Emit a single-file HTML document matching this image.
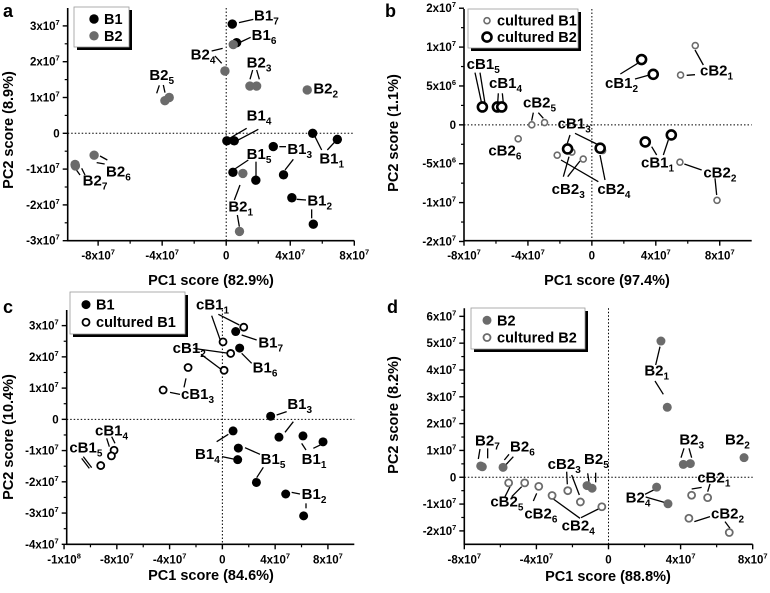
<!DOCTYPE html>
<html><head><meta charset="utf-8"><style>
html,body{margin:0;padding:0;background:#fff}
svg{display:block;font-family:"Liberation Sans",Arial,sans-serif;font-weight:bold}
</style></head><body>
<svg id="fig" width="770" height="593" viewBox="0 0 770 593" xmlns="http://www.w3.org/2000/svg"></svg>
<script>
// ---------- DATA (x, y in units of 1e7) ----------
// Panel a
const aB1X=[0.38,0.65,0.04,0.5,5.4,6.94,2.94,3.58,0.42,1.85,4.1,5.44];
const aB1Y=[3.05,2.53,-0.21,-0.21,0,-0.17,-0.37,-1.16,-1.09,-1.31,-1.8,-2.54];
const aB2X=[-0.08,0.44,1.48,1.9,5.06,-3.83,-3.56,-8.25,-9.42,-9.44,1.04,0.83];
const aB2Y=[1.74,2.48,1.32,1.32,1.21,0.91,1.0,-0.61,-0.91,-0.87,-1.12,-2.74];
// Panel b
const bC1X=[6.47,5.55,-3.76,-2.96,-4.61,-2.17,-1.25,-0.54,0.67,5.51,7.83];
const bC1Y=[1.02,0.64,0,0.03,-0.18,-0.39,-0.35,-0.44,-0.33,-0.48,-0.97];
const bC2X=[3.11,3.84,-6.85,-5.91,-5.64,-1.52,0.52,3.34,4.97];
const bC2Y=[0.84,0.65,0.23,0.23,0.23,-0.31,-0.30,-0.22,-0.13];
// Panel c
const cB1X=[1.01,1.31,3.66,4.29,6.11,7.63,0.81,1.21,1.16,2.58,4.8,6.16];
const cB1Y=[2.81,2.28,0.1,-0.57,-0.53,-0.72,-0.37,-0.92,-1.29,-2.02,-2.39,-3.09];
const cC1X=[1.62,0.05,0.63,0.13,-2.6,-4.49,-8.21,-8.41,-9.22];
const cC1Y=[2.95,2.48,2.11,1.57,1.66,0.94,-0.99,-1.17,-1.48];
// Panel d
const dB2X=[2.91,3.26,4.15,4.54,7.52,2.67,3.3,-1.19,-0.91,-7.09,-7.0,-5.85];
const dB2Y=[5.08,2.61,0.48,0.51,0.73,-0.37,-0.99,-0.31,-0.41,0.42,0.39,0.37];
const dC2X=[-5.54,-4.65,-3.87,-3.13,-2.26,-1.56,-0.37,4.61,5.5,4.46,6.7];
const dC2Y=[-0.21,-0.21,-0.34,-0.68,-0.5,-0.92,-1.1,-0.67,-0.76,-1.53,-2.06];
// Ticks
const aXT=[-8,-4,0,4,8], aXL=["-8x10^7","-4x10^7","0","4x10^7","8x10^7"];
const aYT=[-3,-2,-1,0,1,2,3], aYL=["-3x10^7","-2x10^7","-1x10^7","0","1x10^7","2x10^7","3x10^7"];
const bXT=[-8,-4,0,4,8], bXL=["-8x10^7","-4x10^7","0","4x10^7","8x10^7"];
const bYT=[-1.5,-1,-0.5,0,0.5,1,1.5], bYL=["-2x10^7","-1x10^7","-5x10^6","0","5x10^6","1x10^7","2x10^7"];
const cXT=[-12,-8,-4,0,4,8], cXL=["-1x10^8","-8x10^7","-4x10^7","0","4x10^7","8x10^7"];
const cYT=[-4,-3,-2,-1,0,1,2,3], cYL=["-4x10^7","-3x10^7","-2x10^7","-1x10^7","0","1x10^7","2x10^7","3x10^7"];
const dXT=[-8,-4,0,4,8], dXL=["-8x10^7","-4x10^7","0","4x10^7","8x10^7"];
const dYT=[-2,-1,0,1,2,3,4,5,6], dYL=["-2x10^7","-1x10^7","0","1x10^7","2x10^7","3x10^7","4x10^7","5x10^7","6x10^7"];

const NS="http://www.w3.org/2000/svg";
const svg=document.getElementById('fig');
function el(tag,attrs,parent){const e=document.createElementNS(NS,tag);for(const k in attrs)e.setAttribute(k,attrs[k]);(parent||svg).appendChild(e);return e;}

function sciText(parent,x,y,str,anchor,size){
  const t=el('text',{x:x,y:y,'text-anchor':anchor,'font-size':size},parent);
  const p=str.split('^');
  t.appendChild(document.createTextNode(p[0]));
  if(p[1]){const s=el('tspan',{dy:-5,'font-size':size*0.65},t);s.textContent=p[1];}
  return t;
}

function panel(cfg){
  const g=el('g',{transform:`translate(${cfg.ox},${cfg.oy})`});
  
  
  const sx=v=>cfg.L+(v-cfg.xmin)/(cfg.xmax-cfg.xmin)*(cfg.R-cfg.L);
  const sy=v=>cfg.B-(v-cfg.ymin)/(cfg.ymax-cfg.ymin)*(cfg.B-cfg.T);
  const zx=el('line',{x1:sx(0),x2:sx(0),y1:cfg.T,y2:cfg.B,stroke:'#000','stroke-width':1,'stroke-dasharray':'1.5,2'},g);
  
  const zy=el('line',{x1:cfg.L,x2:cfg.R,y1:sy(0),y2:sy(0),stroke:'#000','stroke-width':1,'stroke-dasharray':'1.5,2'},g);
  
  const ax=el('path',{d:`M${cfg.L},${cfg.T} V${cfg.B} H${cfg.R}`,fill:'none',stroke:'#000','stroke-width':1.6},g);
  
  cfg.xt.forEach((v,i)=>{
    el('line',{x1:sx(v),x2:sx(v),y1:cfg.B,y2:cfg.B+5,stroke:'#000','stroke-width':1.4},g);
    if(i<cfg.xt.length-1){const m=(v+cfg.xt[i+1])/2;el('line',{x1:sx(m),x2:sx(m),y1:cfg.B,y2:cfg.B+3,stroke:'#000','stroke-width':1.2},g);}
    const t=sciText(g,sx(v),cfg.B+19,cfg.xl[i],'middle',11.5);
    
  });
  cfg.yt.forEach((v,i)=>{
    el('line',{x1:cfg.L-5,x2:cfg.L,y1:sy(v),y2:sy(v),stroke:'#000','stroke-width':1.4},g);
    if(i<cfg.yt.length-1){const m=(v+cfg.yt[i+1])/2;el('line',{x1:cfg.L-3,x2:cfg.L,y1:sy(m),y2:sy(m),stroke:'#000','stroke-width':1.2},g);}
    const t=sciText(g,cfg.L-8,sy(v)+4,cfg.yl[i],'end',11.5);
    
  });
  const xt=el('text',{x:cfg.xtx,y:cfg.xty,'text-anchor':'middle','font-size':14.5},g);xt.textContent=cfg.xtitle;
  
  const yt=el('text',{x:0,y:0,'text-anchor':'middle','font-size':14.5,transform:`translate(${cfg.ytx},${cfg.yty}) rotate(-90)`},g);yt.textContent=cfg.ytitle;
  
  const lt=el('text',{x:cfg.lx,y:cfg.ly,'font-size':18},g);lt.textContent=cfg.id;
  
  cfg.ann.forEach(a=>{
    const lg=el('g',{},g);
    
    a[3].forEach(s=>el('line',{x1:s[0]/3,y1:s[1]/3,x2:s[2]/3,y2:s[3]/3,stroke:'#000','stroke-width':1.3},lg));
    const t=el('text',{x:a[1]/3,y:a[2]/3,'font-size':15},lg);
    const p=a[0].split('_');t.appendChild(document.createTextNode(p[0]));
    const s=el('tspan',{dy:4,'font-size':10},t);s.textContent=p[1];
  });
  cfg.series.forEach(s=>{
    const sg=el('g',{},g);
    
    s.x.forEach((v,i)=>{
      const c=el('circle',{cx:sx(v),cy:sy(s.y[i]),r:s.r,fill:s.fill,stroke:s.stroke,'stroke-width':s.sw},sg);
      
      
    });
  });
  const L=cfg.leg;
  const lg=el('g',{},g);
  
  el('rect',{x:L.x+3,y:L.y+3,width:L.w,height:L.h,fill:'#000'},lg);
  el('rect',{x:L.x,y:L.y,width:L.w,height:L.h,fill:'#fff',stroke:'#999','stroke-width':0.8},lg);
  L.items.forEach((it,i)=>{
    const s=cfg.series[i];
    const cy=L.y+L.h*(i===0?0.3:0.72);
    el('circle',{cx:L.x+L.dx,cy:cy,r:s.r,fill:s.fill,stroke:s.stroke,'stroke-width':s.sw},lg);
    const t=el('text',{x:L.x+L.dx+10,y:cy+5,'font-size':14.5},lg);t.textContent=it;
    
  });
}

const G='#6b6b6b';
panel({id:'a',ox:0,oy:0,L:67.7,R:354.3,T:8,B:240.7,xmin:-9.9,xmax:8,ymin:-3,ymax:3.5,
  xt:aXT,xl:aXL,yt:aYT,yl:aYL,xtitle:'PC1 score (82.9%)',xtx:211,xty:285,ytitle:'PC2 score (8.9%)',ytx:13,yty:130,lx:3,ly:17,
  series:[{name:'series-b1',x:aB1X,y:aB1Y,r:4.7,fill:'#000',stroke:'none',sw:0},{name:'series-b2',x:aB2X,y:aB2Y,r:4.7,fill:G,stroke:'none',sw:0}],
  leg:{x:74,y:7,w:55,h:40,dx:20,items:['B1','B2']},
  ann:[['B1_7',762,62,[[717,68,760,58]]],['B1_6',755,120,[[722,126,752,112]]],['B2_4',572,178,[[635,153,668,145],[645,168,665,190]]],
   ['B2_3',740,202,[[758,210,750,238],[770,210,778,238]]],['B2_2',940,280,[]],['B2_5',448,240,[[478,256,470,280],[490,255,495,278]]],
   ['B1_4',740,362,[[680,420,740,385],[705,425,775,388]]],['B1_1',958,490,[[945,410,965,450],[1005,425,982,450]]],
   ['B1_3',862,462,[[838,440,858,440],[880,478,855,510]]],['B1_5',740,477,[[700,510,745,480],[768,485,768,530]]],
   ['B2_1',685,634,[[720,555,703,600],[712,645,718,680]]],['B1_2',922,617,[[890,598,918,600],[935,628,935,655]]],
   ['B2_6',318,530,[[300,468,322,480],[290,488,314,492]]],['B2_7',248,557,[[228,508,240,525],[245,505,255,525]]]]});

panel({id:'b',ox:385,oy:0,L:79,R:366.7,T:9,B:240.7,xmin:-8,xmax:10,ymin:-1.49,ymax:1.49,
  xt:bXT,xl:bXL,yt:bYT,yl:bYL,xtitle:'PC1 score (97.4%)',xtx:222,xty:285,ytitle:'PC2 score (1.1%)',ytx:13,yty:133,lx:0,ly:17,
  series:[{name:'series-cultured-b1',x:bC1X,y:bC1Y,r:3,fill:'#fff',stroke:G,sw:1.6},{name:'series-cultured-b2',x:bC2X,y:bC2Y,r:4.5,fill:'#fff',stroke:'#000',sw:2.6}],
  leg:{x:83,y:9,w:110,h:39,dx:19,items:['cultured B1','cultured B2']},
  ann:[['cB1_5',245,207,[[270,218,290,310],[285,218,300,310]]],['cB1_4',312,264,[[340,280,338,310],[352,280,355,310]]],
   ['cB2_5',414,322,[[445,338,440,362],[460,338,475,355]]],['cB2_6',310,467,[]],['cB1_3',518,385,[[555,405,547,430],[570,400,635,432]]],
   ['cB2_3',500,582,[[535,530,552,470],[548,530,585,483]]],['cB2_4',637,582,[[528,480,640,545],[645,465,660,540]]],
   ['cB1_2',660,264,[[706,222,758,190],[750,237,793,225]]],['cB2_1',945,227,[[930,150,955,195],[905,226,930,224]]],
   ['cB1_1',768,502,[[800,440,815,465],[850,420,835,465]]],['cB2_2',955,532,[[898,492,950,510],[990,535,995,585]]]]});

panel({id:'c',ox:0,oy:295,L:66.7,R:354.3,T:15,B:249.3,xmin:-11.8,xmax:10,ymin:-4,ymax:3.5,
  xt:cXT,xl:cXL,yt:cYT,yl:cYL,xtitle:'PC1 score (84.6%)',xtx:211,xty:285,ytitle:'PC2 score (10.4%)',ytx:13,yty:142,lx:3,ly:18,
  series:[{name:'series-b1',x:cB1X,y:cB1Y,r:4.5,fill:'#000',stroke:'none',sw:0},{name:'series-cultured-b1',x:cC1X,y:cC1Y,r:3.5,fill:'#fff',stroke:'#000',sw:1.8}],
  leg:{x:70,y:-3,w:115,h:42,dx:16,items:['B1','cultured B1']},
  ann:[['cB1_1',588,44,[[635,62,660,133],[655,58,718,90]]],['B1_7',775,157,[[725,120,770,135]]],
   ['cB1_2',518,174,[[580,160,688,175],[603,178,662,222]]],['B1_6',758,232,[[725,175,755,205]]],
   ['cB1_3',543,312,[[510,292,540,298],[558,250,552,277]]],['B1_3',862,342,[[830,360,860,350],[880,380,855,412]]],
   ['cB1_4',285,422,[[320,430,328,455],[335,425,345,445]]],['cB1_5',208,472,[[250,485,275,518],[245,490,268,520]]],
   ['B1_4',585,492,[[650,440,685,418],[666,485,700,492]]],['B1_5',782,507,[[735,458,780,478],[790,517,770,548]]],
   ['B1_1',905,507,[[905,445,918,465],[940,460,965,448]]],['B1_2',905,612,[[875,592,900,597],[918,625,918,640]]]]});

panel({id:'d',ox:385,oy:295,L:79.3,R:367.7,T:13.3,B:249.3,xmin:-8,xmax:8,ymin:-2.5,ymax:6.3,
  xt:dXT,xl:dXL,yt:dYT,yl:dYL,xtitle:'PC1 score (88.8%)',xtx:223,xty:286,ytitle:'PC2 score (8.2%)',ytx:13,yty:120,lx:2,ly:18,
  series:[{name:'series-b2',x:dB2X,y:dB2Y,r:4.5,fill:G,stroke:'none',sw:0},{name:'series-cultured-b2',x:dC2X,y:dC2Y,r:3.5,fill:'#fff',stroke:G,sw:1.8}],
  leg:{x:86,y:13,w:114,h:41,dx:16,items:['B2','cultured B2']},
  ann:[['B2_1',778,242,[[825,155,812,210],[810,258,835,298]]],['B2_3',883,448,[[897,460,888,488],[912,460,920,488]]],
   ['B2_2',1020,448,[]],['cB2_1',937,562,[[920,582,950,577],[975,567,968,590]]],['cB2_2',978,670,[[928,680,975,665],[1020,680,1035,700]]],
   ['B2_4',722,622,[[780,598,812,582],[782,606,838,622]]],['B2_7',270,452,[[285,462,280,492],[308,460,308,490]]],
   ['B2_6',375,470,[[358,495,372,478],[362,510,385,485]]],['cB2_3',488,522,[[545,530,547,568],[560,540,583,600]]],
   ['B2_5',597,507,[[608,535,612,560],[632,533,632,562]]],['cB2_5',316,634,[[375,575,360,605],[410,575,380,605]]],
   ['cB2_6',418,670,[[455,595,445,618]]],['cB2_4',530,707,[[505,612,585,670],[588,668,640,642]]]]});
</script>
</body></html>
